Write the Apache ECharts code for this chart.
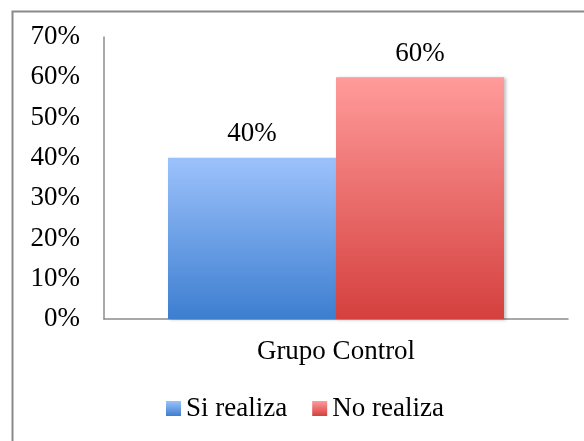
<!DOCTYPE html>
<html>
<head>
<meta charset="utf-8">
<script src="https://cdn.jsdelivr.net/npm/echarts@6/dist/echarts.min.js"></script>
<style>
html,body{margin:0;padding:0;background:#fff;}
#c{width:584px;height:441px;}
</style>
</head>
<body>
<div id="c"></div>
<script>
const categories = ['Grupo Control'];
const seriesNames = ['Si realiza', 'No realiza'];
const siRealiza = [40];
const noRealiza = [60];
const yTicks = [0, 10, 20, 30, 40, 50, 60, 70];

const FONT = 'Liberation Serif';
const FS = 27;
function grad(top, bottom) {
  return new echarts.graphic.LinearGradient(0, 0, 0, 1, [
    { offset: 0, color: top },
    { offset: 1, color: bottom }
  ]);
}
const shadow = { shadowBlur: 3, shadowOffsetX: 2, shadowOffsetY: 1, shadowColor: 'rgba(0,0,0,0.25)' };

const chart = echarts.init(document.getElementById('c'), null, { renderer: 'canvas' });
chart.setOption({
  animation: false,
  backgroundColor: '#fff',
  textStyle: { fontFamily: FONT },
  graphic: [{
    type: 'rect',
    left: 10, top: 9,
    shape: { width: 620, height: 460 },
    style: { fill: 'none', stroke: '#8a8a8a', lineWidth: 2 },
    z: 0
  }],
  grid: { left: 104, right: 16, top: 37, bottom: 122, containLabel: false },
  xAxis: {
    type: 'category',
    data: categories,
    axisLine: { lineStyle: { color: '#8c8c8c', width: 1.5 } },
    axisTick: { show: false },
    axisLabel: { color: '#000', fontFamily: FONT, fontSize: FS, margin: 19 }
  },
  yAxis: {
    type: 'value',
    min: yTicks[0],
    max: yTicks[yTicks.length - 1],
    interval: 10,
    axisLine: { show: true, lineStyle: { color: '#8c8c8c', width: 1.5 } },
    axisTick: { show: false },
    splitLine: { show: false },
    axisLabel: { color: '#000', fontFamily: FONT, fontSize: FS, margin: 24, formatter: '{value}%' }
  },
  legend: {
    left: 166, top: 395, padding: 0,
    itemWidth: 15, itemHeight: 15, itemGap: 25,
    icon: 'rect',
    textStyle: { color: '#000', fontFamily: FONT, fontSize: FS },
    data: seriesNames
  },
  series: [
    {
      name: seriesNames[0], type: 'bar', data: siRealiza,
      barWidth: 168, barGap: '0%',
      itemStyle: Object.assign({ color: grad('#9cc2fc', '#3d7ed0') }, shadow),
      label: { show: true, position: 'top', distance: 10, color: '#000', fontFamily: FONT, fontSize: FS, formatter: '{c}%' }
    },
    {
      name: seriesNames[1], type: 'bar', data: noRealiza,
      barWidth: 168, barGap: '0%',
      itemStyle: Object.assign({ color: grad('#ff9b9a', '#d4403e') }, shadow),
      label: { show: true, position: 'top', distance: 10, color: '#000', fontFamily: FONT, fontSize: FS, formatter: '{c}%' }
    }
  ]
});
</script>
</body>
</html>
